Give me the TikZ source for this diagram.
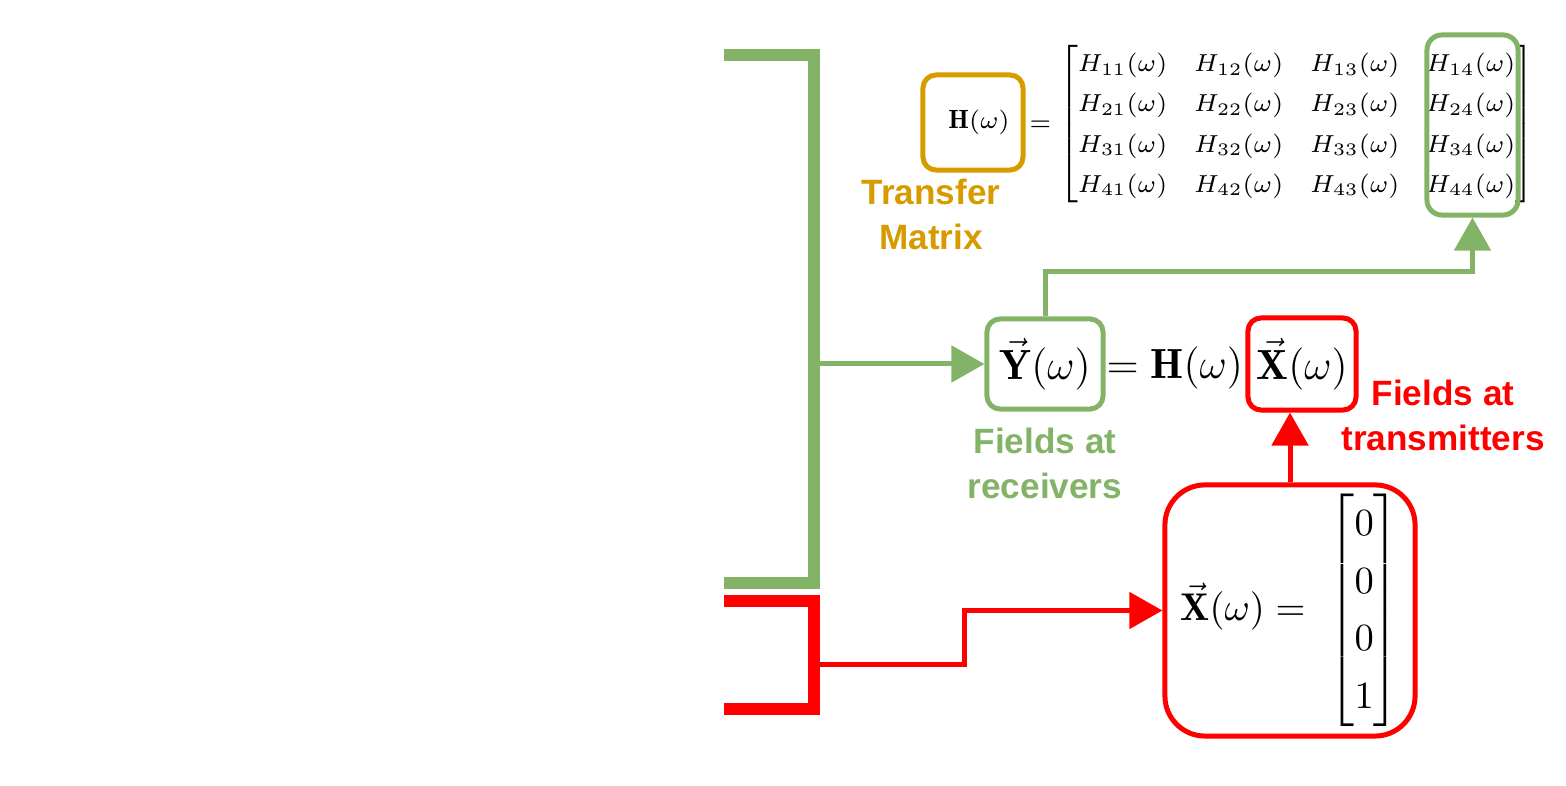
\documentclass[tikz,border=0pt]{standalone}
\usepackage{amsmath,amssymb}
\usepackage{fontspec}
\setsansfont{Liberation Sans}
\usepackage{tikz}
\usetikzlibrary{arrows.meta}
\definecolor{gfield}{HTML}{82B366}
\definecolor{rfield}{HTML}{FF0000}
\definecolor{otrans}{HTML}{D79B00}

\begin{document}
\begin{tikzpicture}[x=0.01cm,y=-0.01cm,>={Triangle[length=0.33cm,width=0.36cm]},
    box/.style={draw=#1,line width=0.05cm,rounded corners=0.13cm,inner sep=0pt,text=black},
    lbl/.style={font=\sffamily\bfseries\fontsize{10}{12.8}\selectfont,align=center},
    bar/.style={line width=0.12cm},
    wire/.style={line width=0.05cm}]
        \useasboundingbox (0,0) rectangle (1566,786);
        \draw[bar,gfield](724,55.5)-|(814,583)--(724,583);
        \draw[bar,rfield](724,601)-|(814,709)--(724,709);
        \coordinate(gtap)at(814,364);
        \coordinate(rtap)at(814,664.5);
        \node[box=otrans,minimum width=1cm,minimum height=0.95cm](hbox)at(973,122.5){\fontsize{7.5}{9.5}\selectfont\hspace{0.12cm}\(\mathbf{H}(\omega)\)};
        \node[inner sep=0pt,anchor=west](hmat)at(1029,124){\fontsize{7.5}{9.5}\selectfont\renewcommand{\arraystretch}{1.2}\setlength{\arraycolsep}{3.8pt}\(=\begin{bmatrix}
            H_{11}(\omega) & H_{12}(\omega) & H_{13}(\omega) & H_{14}(\omega)\\
            H_{21}(\omega) & H_{22}(\omega) & H_{23}(\omega) & H_{24}(\omega)\\
            H_{31}(\omega) & H_{32}(\omega) & H_{33}(\omega) & H_{34}(\omega)\\
            H_{41}(\omega) & H_{42}(\omega) & H_{43}(\omega) & H_{44}(\omega)
        \end{bmatrix}\)};
        \node[box=gfield,minimum width=0.91cm,minimum height=1.8cm,rounded corners=0.15cm](hcol)at(1472.5,125){};
        \node[lbl,text=otrans](lbltm)at(931,214){Transfer\\Matrix};
        \node[box=gfield,minimum width=1.16cm,minimum height=0.9cm](ybox)at(1045,364){\fontsize{12}{14}\selectfont\(\vec{\mathbf{Y}}(\omega)\)};
        \node[inner sep=0pt,anchor=base west](eqh)at(1106,379){\fontsize{12}{14}\selectfont\(=\mathbf{H}(\omega)\)};
        \node[box=rfield,minimum width=1.08cm,minimum height=0.92cm](xbox)at(1302,364){\fontsize{12}{14}\selectfont\(\vec{\mathbf{X}}(\omega)\)};
        \node[lbl,text=gfield](lblrx)at(1045,463){Fields at\\receivers};
        \node[lbl,text=rfield](lbltx)at(1443,415){Fields at\\transmitters};
        \node[box=rfield,minimum width=2.5cm,minimum height=2.51cm,rounded corners=0.4cm](xin)at(1290,610.5){\fontsize{11}{13.6}\selectfont\renewcommand{\arraystretch}{1.2}\(\vec{\mathbf{X}}(\omega)=\ \begin{bmatrix}0\\0\\0\\1\end{bmatrix}\)};
        \draw[wire,gfield,->](gtap)--(ybox.west);
        \draw[wire,gfield,->](ybox.north)--++(0,-45)-|(hcol.south);
        \draw[wire,rfield,->](xin.north)--(xin.north|-xbox.south);
        \draw[wire,rfield,->](rtap)--++(150,0)|-(xin.west);
    \end{tikzpicture}
\end{document}
